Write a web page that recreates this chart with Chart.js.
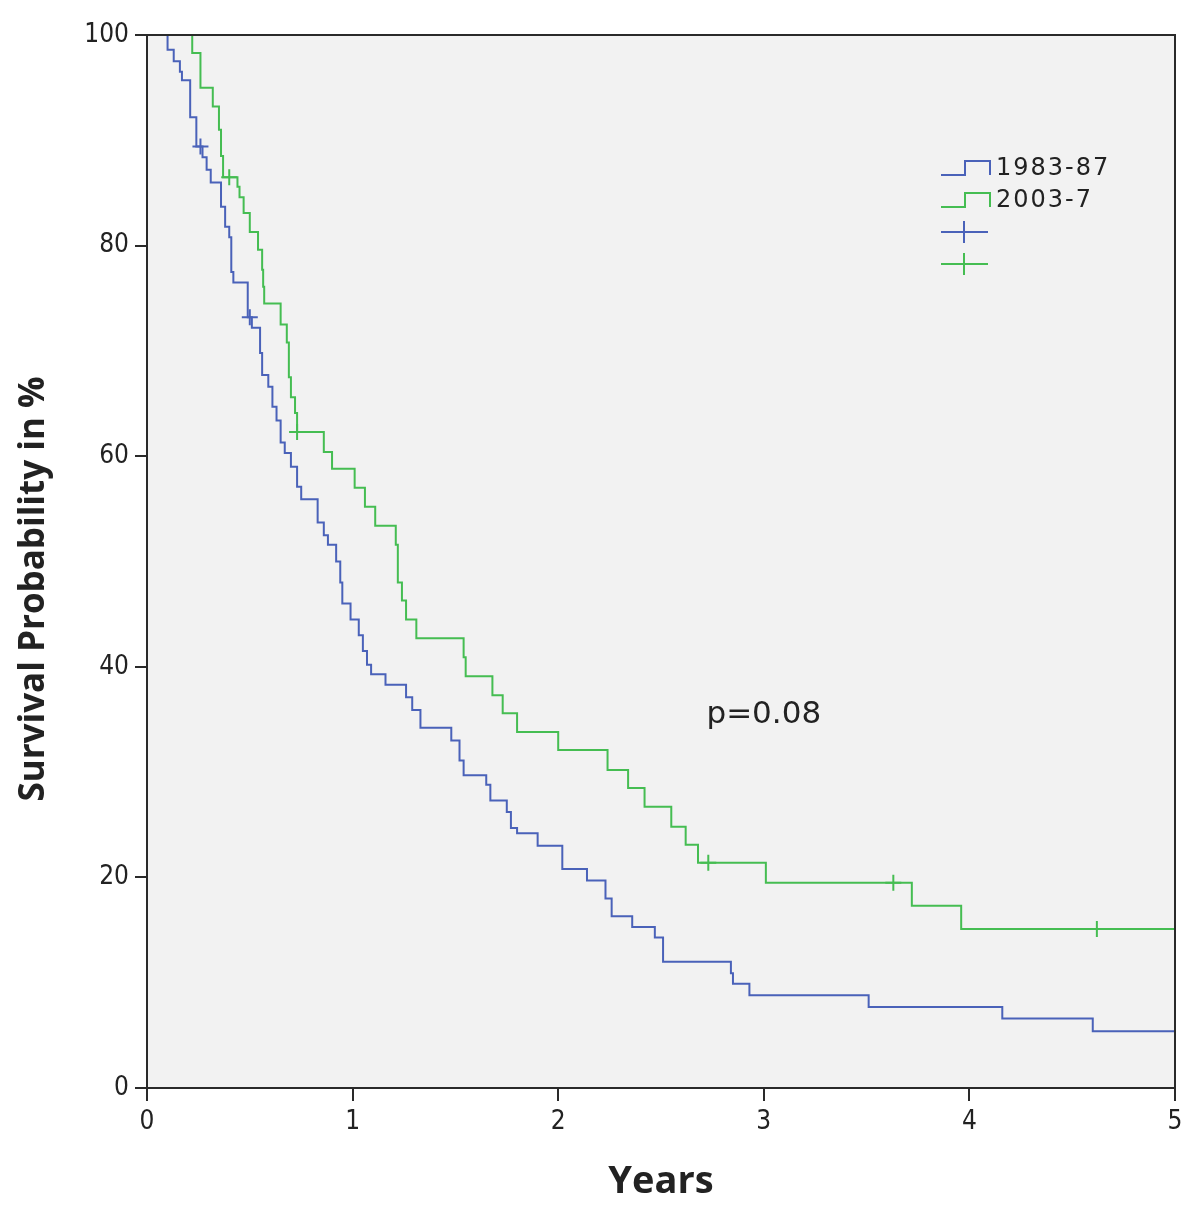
<!DOCTYPE html>
<html>
<head>
<meta charset="utf-8">
<script src="https://cdn.jsdelivr.net/npm/chart.js@4/dist/chart.umd.min.js"></script>
<style>
  html, body { margin: 0; padding: 0; background: #fff; }
  #wrap { width: 1200px; height: 1217px; }
</style>
</head>
<body>
<div id="wrap"><canvas id="km"></canvas></div>
<script>
// Kaplan-Meier curves, times in years, survival in %
const groups = ['1983-87', '2003-7'];

const blueTimes = [0, 0.10, 0.13, 0.16, 0.17, 0.21, 0.24, 0.27, 0.29, 0.31, 0.36, 0.38, 0.40, 0.41, 0.42,
    0.49, 0.51, 0.55, 0.56, 0.59, 0.61, 0.63, 0.65, 0.67, 0.70, 0.73, 0.75, 0.83, 0.86, 0.88, 0.92,
    0.94, 0.95, 0.99, 1.03, 1.05, 1.07, 1.09, 1.16, 1.26, 1.29, 1.33, 1.48, 1.52, 1.54, 1.65, 1.67,
    1.75, 1.77, 1.80, 1.90, 2.02, 2.14, 2.23, 2.26, 2.36, 2.47, 2.51, 2.84, 2.85, 2.93, 3.51, 4.16,
    4.60, 5.0];
const blueSurv = [100, 98.6, 97.5, 96.5, 95.7, 92.2, 89.4, 88.4, 87.2, 86.0, 83.7, 81.8, 80.8, 77.5, 76.5,
    73.2, 72.2, 69.8, 67.7, 66.6, 64.7, 63.4, 61.3, 60.3, 59.0, 57.1, 55.9, 53.7, 52.5, 51.6, 50.0,
    48.0, 46.0, 44.5, 43.0, 41.5, 40.2, 39.3, 38.3, 37.1, 35.9, 34.2, 33.0, 31.1, 29.7, 28.8, 27.3,
    26.2, 24.7, 24.2, 23.0, 20.8, 19.7, 18.0, 16.3, 15.3, 14.3, 12.0, 10.9, 9.9, 8.8, 7.7, 6.6,
    5.4, 5.4];

const greenTimes = [0, 0.22, 0.26, 0.32, 0.35, 0.36, 0.37, 0.44, 0.45, 0.47, 0.50, 0.54, 0.56, 0.565, 0.57,
    0.65, 0.68, 0.69, 0.70, 0.72, 0.73, 0.86, 0.90, 1.01, 1.06, 1.11, 1.21, 1.22, 1.24, 1.26, 1.31,
    1.54, 1.55, 1.68, 1.73, 1.80, 2.00, 2.24, 2.34, 2.42, 2.55, 2.62, 2.68, 3.01, 3.72, 3.96, 5.0];
const greenSurv = [100, 98.3, 95.0, 93.2, 91.0, 88.5, 86.5, 85.6, 84.6, 83.1, 81.3, 79.6, 77.7, 76.1, 74.5,
    72.5, 70.8, 67.5, 65.6, 64.1, 62.3, 60.4, 58.8, 57.0, 55.2, 53.4, 51.6, 48.0, 46.3, 44.5, 42.7,
    40.9, 39.1, 37.3, 35.6, 33.8, 32.1, 30.2, 28.5, 26.7, 24.8, 23.1, 21.4, 19.5, 17.3, 15.1, 15.1];

// censored observations
const blueCensorTimes = [0.26, 0.50];
const blueCensorSurv = [89.4, 73.2];
const greenCensorTimes = [0.40, 0.73, 2.73, 3.63, 4.62];
const greenCensorSurv = [86.5, 62.3, 21.4, 19.5, 15.1];

const xTicks = [0, 1, 2, 3, 4, 5];
const yTicks = [0, 20, 40, 60, 80, 100];
const pValue = 'p=0.08';
const yTitle = 'Survival Probability in %';

const blue = '#4a62b9';
const green = '#45bd52';
const axisCol = '#2a2a2a';
const tickFont = { family: 'DejaVu Sans Condensed, DejaVu Sans', size: 26 };

const toPts = (xs, ys) => xs.map((x, i) => ({ x: x, y: ys[i] }));

// grey plot background + frame
const plotBox = {
    id: 'plotBox',
    beforeDraw(chart) {
        const { ctx, chartArea: a } = chart;
        ctx.save();
        ctx.fillStyle = '#f2f2f2';
        ctx.fillRect(a.left, a.top, a.right - a.left, a.bottom - a.top);
        ctx.restore();
    },
    afterDraw(chart) {
        const { ctx, chartArea: a } = chart;
        ctx.save();
        ctx.strokeStyle = axisCol;
        ctx.lineWidth = 2;
        ctx.strokeRect(a.left, a.top, a.right - a.left, a.bottom - a.top);
        ctx.restore();
    }
};

// SPSS style legend, p value and y title (sits a bit below centre in the original)
const notes = {
    id: 'notes',
    afterDraw(chart) {
        const { ctx } = chart;
        const xs = chart.scales.x, ys = chart.scales.y;
        ctx.save();
        ctx.lineWidth = 2;
        ctx.font = '24px "DejaVu Sans"';
        ctx.letterSpacing = '2px';
        ctx.textBaseline = 'middle';
        ctx.fillStyle = '#222';
        const cols = [blue, green];
        const rows = [169, 201];
        rows.forEach((y, i) => {
            ctx.strokeStyle = cols[i];
            ctx.beginPath();
            ctx.moveTo(941, y + 6);
            ctx.lineTo(965, y + 6);
            ctx.lineTo(965, y - 8);
            ctx.lineTo(990, y - 8);
            ctx.lineTo(990, y + 6);
            ctx.stroke();
            ctx.fillText(groups[i], 996, y);
        });
        [232, 264].forEach((y, i) => {
            ctx.strokeStyle = cols[i];
            ctx.beginPath();
            ctx.moveTo(941, y);
            ctx.lineTo(988, y);
            ctx.moveTo(964, y - 11);
            ctx.lineTo(964, y + 11);
            ctx.stroke();
        });
        ctx.letterSpacing = '0px';
        ctx.font = '31px "DejaVu Sans"';
        ctx.textAlign = 'center';
        ctx.fillText(pValue, xs.getPixelForValue(3.0), ys.getPixelForValue(35.4));

        ctx.translate(34, 589);
        ctx.rotate(-Math.PI / 2);
        ctx.font = 'bold 35px "Open Sans"';
        ctx.fillText(yTitle, 0, 0);
        ctx.restore();
    }
};

new Chart(document.getElementById('km'), {
    type: 'line',
    data: {
        datasets: [
            {
                label: groups[0],
                data: toPts(blueTimes, blueSurv),
                borderColor: blue,
                borderWidth: 2,
                stepped: 'before',
                pointRadius: 0,
                fill: false
            },
            {
                label: groups[1],
                data: toPts(greenTimes, greenSurv),
                borderColor: green,
                borderWidth: 2,
                stepped: 'before',
                pointRadius: 0,
                fill: false
            },
            {
                label: groups[0] + ' censored',
                data: toPts(blueCensorTimes, blueCensorSurv),
                showLine: false,
                pointStyle: 'cross',
                pointRadius: 8,
                pointBorderWidth: 2,
                borderColor: blue,
                backgroundColor: blue
            },
            {
                label: groups[1] + ' censored',
                data: toPts(greenCensorTimes, greenCensorSurv),
                showLine: false,
                pointStyle: 'cross',
                pointRadius: 8,
                pointBorderWidth: 2,
                borderColor: green,
                backgroundColor: green
            }
        ]
    },
    options: {
        responsive: true,
        maintainAspectRatio: false,
        animation: false,
        layout: { padding: { top: 35, right: 25, left: 0, bottom: 0 } },
        plugins: {
            legend: { display: false },
            tooltip: { enabled: false }
        },
        scales: {
            x: {
                type: 'linear',
                min: 0,
                max: 5,
                afterBuildTicks: s => { s.ticks = xTicks.map(v => ({ value: v })); },
                afterFit: s => { s.height = 129; },
                grid: { drawOnChartArea: false, drawTicks: true, tickLength: 13, color: axisCol, lineWidth: 2 },
                border: { color: axisCol, width: 2 },
                ticks: { color: '#222', font: tickFont, padding: 6 },
                title: {
                    display: true,
                    text: 'Years',
                    color: '#222',
                    font: { family: 'Open Sans', size: 38, weight: 'bold' },
                    padding: { top: 4, bottom: 12 }
                }
            },
            y: {
                min: 0,
                max: 100,
                afterBuildTicks: s => { s.ticks = yTicks.map(v => ({ value: v })); },
                afterFit: s => { s.width = 147; },
                grid: { drawOnChartArea: false, drawTicks: true, tickLength: 12, color: axisCol, lineWidth: 2 },
                border: { color: axisCol, width: 2 },
                ticks: { color: '#222', font: tickFont, padding: 6 },
                title: { display: false }
            }
        }
    },
    plugins: [plotBox, notes]
});
</script>
</body>
</html>
